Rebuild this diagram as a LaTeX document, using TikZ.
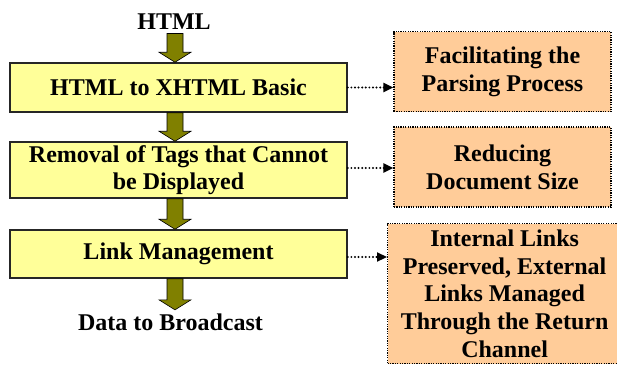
\documentclass[tikz,border=0pt]{standalone}
\usepackage{fontspec}
\setmainfont{Liberation Serif}
\usetikzlibrary{arrows.meta,calc}

\definecolor{stepyellow}{HTML}{FFFF99}
\definecolor{notepeach}{HTML}{FFCC99}
\definecolor{flowolive}{HTML}{808000}

\tikzset{
  lbl/.style={font=\bfseries\fontsize{24}{28.3}\selectfont, inner sep=4pt, align=center},
  stepbox/.style={lbl, draw=black!85, line width=1.5pt, fill=stepyellow,
    minimum width=337pt, inner sep=0pt},
  notebox/.style={lbl, draw=black, line width=1.2pt, dash pattern=on 1.2pt off 1.2pt,
    fill=notepeach, minimum width=217pt, minimum height=80pt, inner sep=0pt},
  fatarrowstyle/.style={draw=black, line width=0.6pt, fill=flowolive},
  dotlink/.style={line width=2.2pt, dash pattern=on 0pt off 3.6pt, line cap=round,
    -{Triangle[length=10pt,width=9pt,line cap=butt,line join=miter]}},
}

% broad downward arrow on the flow spine, from the bottom of #1 to the top of #2
\newcommand\fatarrow[2]{%
  \draw[fatarrowstyle] let \p0=(spine), \p1=(#1), \p2=(#2) in
    (\x0-8pt,\y1) -- (\x0+8pt,\y1) -- (\x0+8pt,\y2+10pt) -- (\x0+16pt,\y2+10pt)
    -- (\x0,\y2) -- (\x0-16pt,\y2+10pt) -- (\x0-8pt,\y2+10pt) -- cycle;}

\begin{document}
\begin{tikzpicture}[x=1pt,y=-1pt]
  \useasboundingbox (0,0) rectangle (617,364);
  \clip (0,0) rectangle (617,364);

  \coordinate (spine) at (175,0);

  % main processing chain
  \node[lbl, anchor=base] (src) at (174,29.3) {HTML};
  \node[stepbox, minimum height=49pt] (conv) at (178.5,87.5) {HTML to XHTML Basic};
  \node[stepbox, minimum height=56pt] (strip) at (178.5,170)
    {Removal of Tags that Cannot\\[-1pt]be Displayed};
  \node[stepbox, minimum height=48pt] (links) at (178.5,254) {Link Management};
  \node[lbl, anchor=base] (out) at (170.5,330.7) {Data to Broadcast};

  \fatarrow{src.south}{conv.north}
  \fatarrow{conv.south}{strip.north}
  \fatarrow{strip.south}{links.north}
  \fatarrow{links.south}{out.north}

  % notes on each step
  \node[notebox] (parse) at (502.5,71.5) {Facilitating the\\Parsing Process};
  \node[notebox] (size) at (502.5,167) {Reducing\\Document Size};
  \node[notebox, anchor=north west, minimum width=234pt, minimum height=10pt,
        inner ysep=6pt, font=\bfseries\fontsize{24}{27.8}\selectfont] (ret) at (387,223)
    {Internal Links\\Preserved, External\\Links Managed\\Through the Return\\Channel};

  \draw[dotlink] (conv.east) -- (conv.east -| parse.west);
  \draw[dotlink] ($(strip.east)+(0,-2)$) -- ($(strip.east -| size.west)+(0,-2)$);
  \draw[dotlink] ($(links.east)+(0,3)$) -- ($(links.east -| ret.west)+(0,3)$);
\end{tikzpicture}
\end{document}
